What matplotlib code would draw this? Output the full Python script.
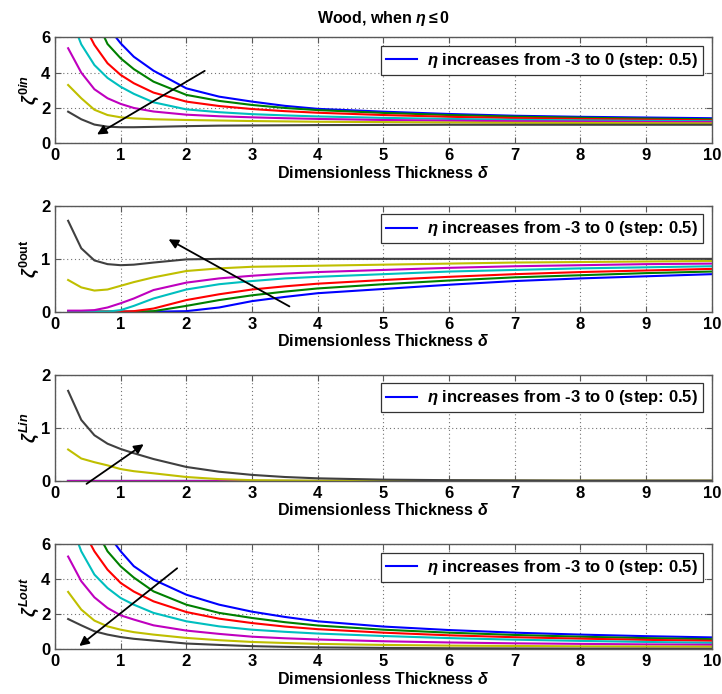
import matplotlib
matplotlib.use("Agg")
import matplotlib.pyplot as plt
from matplotlib.lines import Line2D

plt.rcParams['font.family'] = ['Liberation Sans', 'DejaVu Sans']
plt.rcParams['font.weight'] = 'bold'
plt.rcParams['mathtext.fontset'] = 'custom'
plt.rcParams['mathtext.rm'] = 'Liberation Sans:bold'
plt.rcParams['mathtext.bf'] = 'Liberation Sans:bold'
plt.rcParams['mathtext.it'] = 'Liberation Sans:italic:bold'

# dimensionless thickness samples
delta = [0.2, 0.4, 0.6, 0.8, 1.0, 1.2, 1.5, 2.0, 2.5, 3.0, 3.5, 4.0, 5.0, 6.0, 7.0, 8.0, 9.0, 10.0]
eta_values = [-3.0, -2.5, -2.0, -1.5, -1.0, -0.5, 0.0]
line_colors = [(0, 0, 1), (0, 0.5, 0), (1, 0, 0), (0, 0.75, 0.75),
               (0.75, 0, 0.75), (0.75, 0.75, 0), (0.25, 0.25, 0.25)]

# zeta^0in, one row per eta (from -3 to 0)
zeta_0in = [
    [14.0, 10.0, 8.2, 6.6, 5.66, 4.90, 4.11, 3.11, 2.64, 2.36, 2.12, 1.95, 1.79, 1.66, 1.56, 1.50, 1.46, 1.42],
    [11.0, 8.8, 7.2, 5.62, 4.81, 4.20, 3.49, 2.74, 2.40, 2.17, 2.00, 1.88, 1.72, 1.60, 1.51, 1.45, 1.40, 1.36],
    [9.0, 7.0, 5.57, 4.53, 3.87, 3.40, 2.87, 2.36, 2.11, 1.94, 1.82, 1.73, 1.60, 1.50, 1.43, 1.38, 1.34, 1.30],
    [7.5, 5.6, 4.43, 3.70, 3.20, 2.80, 2.32, 1.92, 1.76, 1.65, 1.58, 1.52, 1.44, 1.38, 1.33, 1.30, 1.27, 1.25],
    [5.38, 4.0, 3.06, 2.55, 2.23, 2.00, 1.80, 1.62, 1.53, 1.47, 1.42, 1.38, 1.32, 1.28, 1.25, 1.23, 1.21, 1.20],
    [3.30, 2.55, 1.90, 1.60, 1.47, 1.41, 1.36, 1.32, 1.29, 1.26, 1.24, 1.22, 1.20, 1.18, 1.16, 1.15, 1.14, 1.13],
    [1.79, 1.36, 1.06, 0.94, 0.91, 0.91, 0.93, 0.97, 1.00, 1.01, 1.02, 1.03, 1.04, 1.05, 1.05, 1.05, 1.05, 1.05],
]

# zeta^0out
zeta_0out = [
    [0.0, 0.0, 0.0, 0.0, 0.0, 0.0, 0.0, 0.01, 0.08, 0.20, 0.28, 0.35, 0.43, 0.51, 0.58, 0.63, 0.67, 0.71],
    [0.0, 0.0, 0.0, 0.0, 0.0, 0.0, 0.01, 0.11, 0.22, 0.31, 0.38, 0.44, 0.52, 0.59, 0.65, 0.69, 0.73, 0.76],
    [0.0, 0.0, 0.0, 0.0, 0.0, 0.01, 0.06, 0.22, 0.33, 0.42, 0.48, 0.53, 0.60, 0.66, 0.71, 0.75, 0.78, 0.81],
    [0.0, 0.0, 0.0, 0.0, 0.03, 0.11, 0.25, 0.42, 0.52, 0.58, 0.63, 0.66, 0.71, 0.76, 0.79, 0.82, 0.84, 0.86],
    [0.02, 0.02, 0.03, 0.08, 0.16, 0.25, 0.41, 0.55, 0.63, 0.68, 0.72, 0.75, 0.79, 0.83, 0.86, 0.88, 0.90, 0.91],
    [0.60, 0.46, 0.40, 0.42, 0.49, 0.56, 0.65, 0.77, 0.82, 0.85, 0.86, 0.87, 0.89, 0.91, 0.93, 0.94, 0.95, 0.96],
    [1.72, 1.20, 0.97, 0.90, 0.88, 0.89, 0.93, 0.99, 1.0, 1.0, 1.0, 1.0, 1.0, 1.0, 1.0, 1.0, 1.0, 1.0],
]

# zeta^Lin
zeta_Lin = [
    [0.0] * 18,
    [0.0] * 18,
    [0.0] * 18,
    [0.0] * 18,
    [0.0] * 18,
    [0.59, 0.42, 0.35, 0.29, 0.22, 0.18, 0.14, 0.07, 0.03, 0.01, 0.005, 0.0, 0.0, 0.0, 0.0, 0.0, 0.0, 0.0],
    [1.70, 1.15, 0.86, 0.70, 0.60, 0.52, 0.41, 0.26, 0.17, 0.11, 0.07, 0.045, 0.02, 0.01, 0.005, 0.0, 0.0, 0.0],
]

# zeta^Lout
zeta_Lout = [
    [14.0, 10.0, 8.2, 6.6, 5.6, 4.75, 3.98, 3.12, 2.55, 2.15, 1.85, 1.60, 1.30, 1.10, 0.95, 0.84, 0.75, 0.68],
    [11.0, 8.8, 7.0, 5.6, 4.74, 4.10, 3.31, 2.55, 2.08, 1.79, 1.55, 1.36, 1.12, 0.95, 0.82, 0.72, 0.64, 0.58],
    [9.0, 7.0, 5.6, 4.55, 3.79, 3.30, 2.74, 2.13, 1.75, 1.50, 1.30, 1.15, 0.95, 0.80, 0.69, 0.61, 0.54, 0.49],
    [7.6, 5.6, 4.27, 3.50, 2.93, 2.55, 2.08, 1.60, 1.31, 1.12, 1.00, 0.90, 0.76, 0.64, 0.55, 0.48, 0.42, 0.37],
    [5.3, 3.89, 2.97, 2.36, 1.94, 1.70, 1.37, 1.07, 0.88, 0.72, 0.63, 0.56, 0.46, 0.39, 0.34, 0.31, 0.28, 0.26],
    [3.28, 2.27, 1.64, 1.31, 1.12, 0.98, 0.84, 0.65, 0.52, 0.42, 0.36, 0.31, 0.25, 0.21, 0.19, 0.17, 0.16, 0.15],
    [1.73, 1.37, 1.03, 0.84, 0.70, 0.60, 0.50, 0.33, 0.25, 0.18, 0.14, 0.11, 0.08, 0.06, 0.05, 0.04, 0.04, 0.03],
]

panels = [zeta_0in, zeta_0out, zeta_Lin, zeta_Lout]
y_labels = [r'$\zeta^{\mathbf{0}\mathit{in}}$', r'$\zeta^{\mathbf{0out}}$',
            r'$\zeta^{\mathit{Lin}}$', r'$\zeta^{\mathit{Lout}}$']
y_limits = [6, 2, 2, 6]
y_ticks = [[0, 2, 4, 6], [0, 1, 2], [0, 1, 2], [0, 2, 4, 6]]
x_ticks = list(range(0, 11))
# trend arrows: (tail x, tail y, head x, head y)
arrows = [(2.28, 4.1, 0.64, 0.5), (3.57, 0.1, 1.73, 1.37),
          (0.48, -0.06, 1.35, 0.69), (1.86, 4.63, 0.37, 0.19)]

legend_text = r'$\eta$ increases from -3 to 0 (step: 0.5)'

fig = plt.figure(figsize=(7.22, 6.94), dpi=100)
W, H = 722.0, 694.0
ax_left, ax_right = 55.0, 711.7
tops = [37.3, 206.0, 375.0, 544.3]
bottoms = [143.3, 311.7, 480.7, 649.3]
frame_color = '0.35'

for i, data in enumerate(panels):
    ax = fig.add_axes([ax_left / W, 1 - bottoms[i] / H,
                       (ax_right - ax_left) / W, (bottoms[i] - tops[i]) / H])
    for row, col in zip(data, line_colors):
        ax.plot(delta, row, color=col, lw=1.5, solid_joinstyle='round')
    ax.set_xlim(0, 10)
    ax.set_ylim(0, y_limits[i])
    ax.set_xticks(x_ticks)
    ax.set_yticks(y_ticks[i])
    ax.grid(True, linestyle=(0, (1, 2.5)), color='0.45', lw=0.8)
    ax.tick_params(direction='in', length=4, top=True, right=True,
                   labelsize=12, pad=3.5, color=frame_color, width=0.8)
    for lab in ax.get_xticklabels() + ax.get_yticklabels():
        lab.set_fontweight('bold')
    for sp in ax.spines.values():
        sp.set_color(frame_color)
        sp.set_linewidth(1.0)
    ax.set_xlabel(r'Dimensionless Thickness $\delta$', fontsize=11.5,
                  fontweight='bold', labelpad=1)
    ax.set_ylabel(y_labels[i], fontsize=13, labelpad=0)

    handle = Line2D([0], [0], color=line_colors[0], lw=1.5)
    leg = ax.legend([handle], [legend_text], loc='upper right',
                    prop={'weight': 'bold', 'size': 12}, fancybox=False,
                    framealpha=1, edgecolor='0.2', borderpad=0.3,
                    handlelength=1.9, handletextpad=0.6,
                    borderaxespad=0.5)
    leg.get_frame().set_linewidth(0.9)

    tx, ty, hx, hy = arrows[i]
    ax.annotate('', xy=(hx, hy), xytext=(tx, ty), annotation_clip=False,
                arrowprops=dict(arrowstyle='-|>', color='black', lw=1.3,
                                mutation_scale=14, shrinkA=0, shrinkB=0))

fig.text(((ax_left + ax_right) / 2) / W, 1 - 18 / H,
         r'Wood, when $\eta \leq 0$', ha='center', va='center',
         fontsize=11.5, fontweight='bold')

fig.savefig('out.png', dpi=100, facecolor='white')
